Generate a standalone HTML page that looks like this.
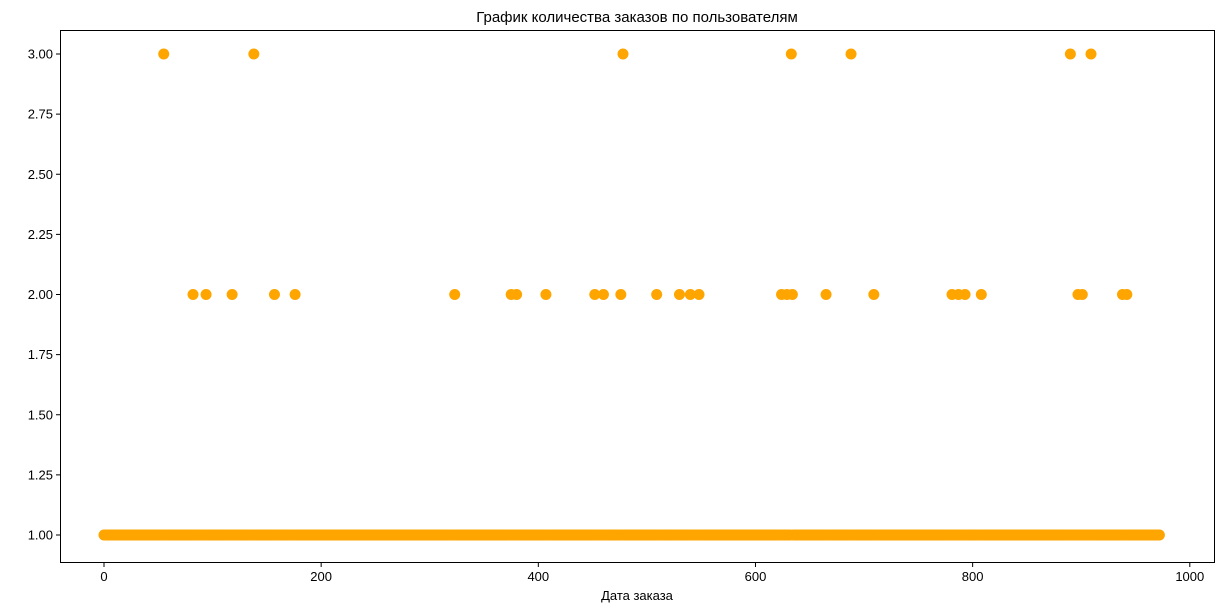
<!DOCTYPE html>
<html><head><meta charset="utf-8">
<style>
html,body{margin:0;padding:0;background:#fff;}
svg{display:block;font-family:"Liberation Sans","DejaVu Sans",sans-serif;}
</style></head>
<body>
<svg id="chart" width="1223" height="612">
<text x="637" y="22" text-anchor="middle" font-size="15" fill="#000">График количества заказов по пользователям</text>
<text x="637" y="600" text-anchor="middle" font-size="13" fill="#000">Дата заказа</text>
<g id="marks"></g>
<g id="axes"></g>
<rect x="60.5" y="30.5" width="1154" height="532" fill="none" stroke="#000" stroke-width="1"/>
</svg>
<script>
const userCount = 973;
const usersWith3Orders = [55,138,478,633,688,890,909];
const usersWith2Orders = [82,94,118,157,176,323,375,380,407,452,460,476,509,530,540,548,624,629,634,665,709,781,787,793,808,897,901,938,942];
const xTicks = [0,200,400,600,800,1000];
const yTicks = [1.00,1.25,1.50,1.75,2.00,2.25,2.50,2.75,3.00];

const NS = "http://www.w3.org/2000/svg";
function xs(v){return 104 + v*1.0858;}
function ys(v){return 535 - (v-1)*240.5;}
const orders = [];
for(let i=0;i<userCount;i++){
  orders.push(usersWith3Orders.includes(i)?3:(usersWith2Orders.includes(i)?2:1));
}
const marks=document.getElementById('marks');
orders.forEach((v,i)=>{
  const c=document.createElementNS(NS,'circle');
  c.setAttribute('cx',xs(i));c.setAttribute('cy',ys(v));c.setAttribute('r',5.5);
  c.setAttribute('fill','#FFA500');
  
  
  marks.appendChild(c);
});
const axes=document.getElementById('axes');
xTicks.forEach(t=>{
  const l=document.createElementNS(NS,'line');
  l.setAttribute('x1',xs(t));l.setAttribute('x2',xs(t));l.setAttribute('y1',562.5);l.setAttribute('y2',567);
  l.setAttribute('stroke','#000');
  
  
  axes.appendChild(l);
  const tx=document.createElementNS(NS,'text');
  tx.setAttribute('x',xs(t));tx.setAttribute('y',581);tx.setAttribute('text-anchor','middle');
  tx.setAttribute('font-size','13');tx.textContent=t;
  
  
  axes.appendChild(tx);
});
yTicks.forEach(t=>{
  const l=document.createElementNS(NS,'line');
  l.setAttribute('x1',56);l.setAttribute('x2',60.5);l.setAttribute('y1',ys(t));l.setAttribute('y2',ys(t));
  l.setAttribute('stroke','#000');
  
  
  axes.appendChild(l);
  const tx=document.createElementNS(NS,'text');
  tx.setAttribute('x',53);tx.setAttribute('y',ys(t)+4.5);tx.setAttribute('text-anchor','end');
  tx.setAttribute('font-size','13');tx.textContent=t.toFixed(2);
  
  
  axes.appendChild(tx);
});
</script>
</body></html>
